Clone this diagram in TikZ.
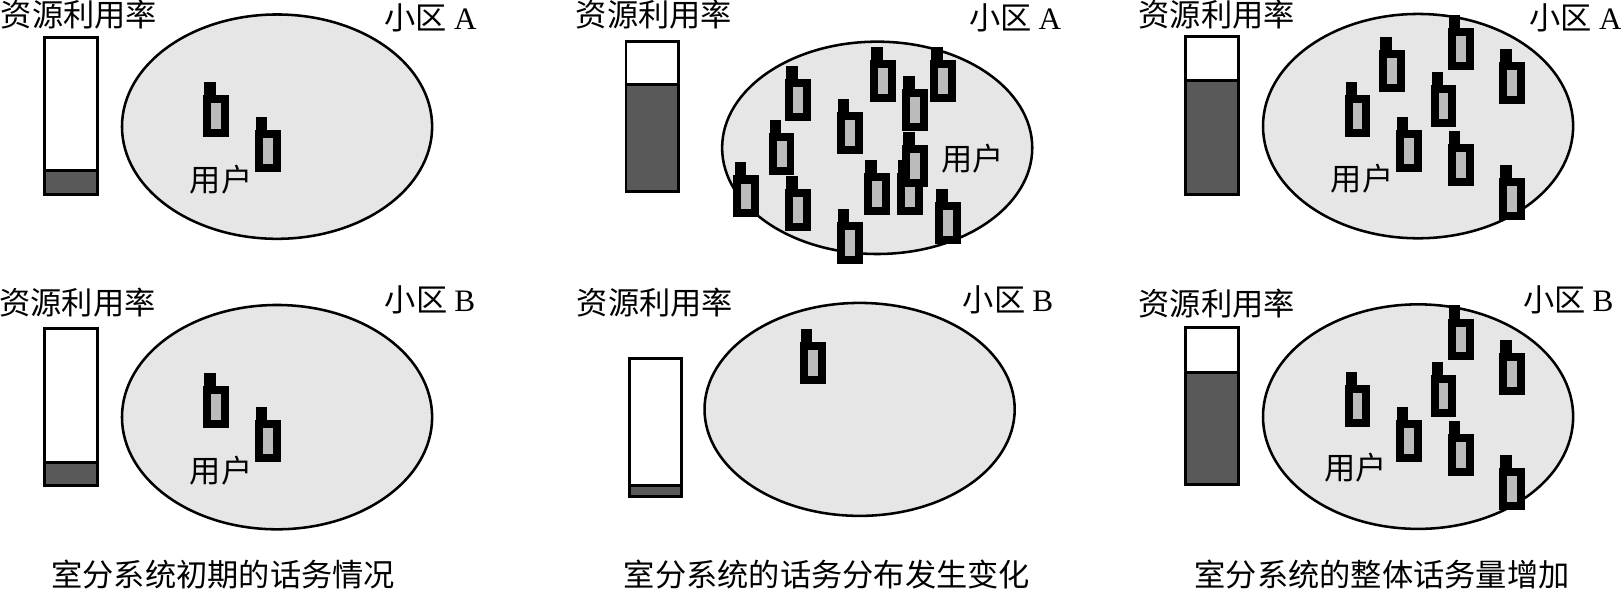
\documentclass[tikz,border=0pt]{standalone}
\usepackage{fontspec}
\setmainfont{Liberation Serif}
\newfontfamily\cjk{Noto Sans CJK SC}
\definecolor{cellgray}{HTML}{E6E6E6}
\definecolor{loadgray}{HTML}{595959}
\definecolor{screengray}{HTML}{BBBBBB}

\begin{document}
\begin{tikzpicture}[
    cell/.style={draw, fill=cellgray, line width=0.7pt},
    bar/.style={draw, fill=white, line width=0.8pt},
    load/.style={draw, fill=loadgray, line width=0.8pt},
    txt/.style={inner sep=0pt, font=\fontsize{8.6pt}{10pt}\selectfont\cjk},
    phone/.pic={
        \fill[black] (-0.125,-0.203) rectangle (0.125,0.203);
        \fill[black] (-0.115,0.2) rectangle (-0.003,0.33);
        \fill[screengray] (-0.048,-0.125) rectangle (0.048,0.125);
    }
]
\useasboundingbox (0,0) rectangle (15.68,-5.697);

% Initial traffic, cell A
\draw[cell] (2.68,-1.225) ellipse (1.50 and 1.085);
\draw[bar] (0.43,-0.36) rectangle (0.94,-1.88);
\draw[load] (0.43,-1.65) rectangle (0.94,-1.88);
\pic at (2.09,-1.124) {phone};
\pic at (2.59,-1.457) {phone};
\node[txt] (rateA1) at (0.765,-0.14) {资源利用率};
\node[txt] (cellA1) at (4.165,-0.17) {小区 {\rmfamily A}};
\node[txt] (userA1) at (2.14,-1.74) {用户};

% Initial traffic, cell B
\draw[cell] (2.68,-4.035) ellipse (1.50 and 1.085);
\draw[bar] (0.43,-3.18) rectangle (0.94,-4.70);
\draw[load] (0.43,-4.47) rectangle (0.94,-4.70);
\pic at (2.09,-3.934) {phone};
\pic at (2.59,-4.267) {phone};
\node[txt] (rateB1) at (0.75,-2.93) {资源利用率};
\node[txt] (cellB1) at (4.16,-2.90) {小区 {\rmfamily B}};
\node[txt] (userB1) at (2.14,-4.55) {用户};

% Changed distribution, cell A
\draw[cell] (8.485,-1.43) ellipse (1.50 and 1.027);
\draw[bar] (6.055,-0.405) rectangle (6.56,-1.85);
\draw[load] (6.055,-0.816) rectangle (6.56,-1.85);
\pic at (7.72,-0.97) {phone};
\pic at (8.54,-0.787) {phone};
\pic at (9.12,-0.787) {phone};
\pic at (8.85,-1.062) {phone};
\pic at (8.22,-1.286) {phone};
\pic at (7.56,-1.493) {phone};
\pic at (7.22,-1.90) {phone};
\pic at (7.72,-2.03) {phone};
\pic at (8.485,-1.88) {phone};
\pic at (8.80,-1.88) {phone};
\pic at (8.85,-1.604) {phone};
\pic at (9.17,-2.155) {phone};
\pic at (8.22,-2.349) {phone};
\node[txt] (rateA2) at (6.325,-0.145) {资源利用率};
\node[txt] (cellA2) at (9.82,-0.17) {小区 {\rmfamily A}};
\node[txt] (userA2) at (9.41,-1.53) {用户};

% Changed distribution, cell B
\draw[cell] (8.315,-3.96) ellipse (1.50 and 1.03);
\draw[bar] (6.09,-3.465) rectangle (6.595,-4.80);
\draw[load] (6.09,-4.70) rectangle (6.595,-4.80);
\pic at (7.86,-3.51) {phone};
\node[txt] (rateB2) at (6.335,-2.93) {资源利用率};
\node[txt] (cellB2) at (9.75,-2.90) {小区 {\rmfamily B}};

% Increased traffic, cell A
\draw[cell] (13.717,-1.22) ellipse (1.50 and 1.085);
\draw[bar] (11.469,-0.355) rectangle (11.982,-1.88);
\draw[load] (11.469,-0.783) rectangle (11.982,-1.88);
\pic at (14.13,-0.476) {phone};
\pic at (13.463,-0.69) {phone};
\pic at (14.625,-0.803) {phone};
\pic at (13.963,-1.022) {phone};
\pic at (13.131,-1.12) {phone};
\pic at (13.626,-1.459) {phone};
\pic at (14.13,-1.594) {phone};
\pic at (14.625,-1.926) {phone};
\node[txt] (rateA3) at (11.769,-0.145) {资源利用率};
\node[txt] (cellA3) at (15.24,-0.17) {小区 {\rmfamily A}};
\node[txt] (userA3) at (13.175,-1.725) {用户};

% Increased traffic, cell B
\draw[cell] (13.717,-4.03) ellipse (1.50 and 1.086);
\draw[bar] (11.469,-3.17) rectangle (11.982,-4.69);
\draw[load] (11.469,-3.602) rectangle (11.982,-4.69);
\pic at (14.13,-3.284) {phone};
\pic at (14.625,-3.615) {phone};
\pic at (13.963,-3.829) {phone};
\pic at (13.131,-3.926) {phone};
\pic at (13.626,-4.264) {phone};
\pic at (14.13,-4.404) {phone};
\pic at (14.625,-4.733) {phone};
\node[txt] (rateB3) at (11.769,-2.934) {资源利用率};
\node[txt] (cellB3) at (15.17,-2.902) {小区 {\rmfamily B}};
\node[txt] (userB3) at (13.115,-4.524) {用户};

% Captions
\node[txt] (capA) at (2.16,-5.56) {室分系统初期的话务情况};
\node[txt] (capB) at (8.00,-5.56) {室分系统的话务分布发生变化};
\node[txt] (capC) at (13.37,-5.555) {室分系统的整体话务量增加};

\end{tikzpicture}
\end{document}
